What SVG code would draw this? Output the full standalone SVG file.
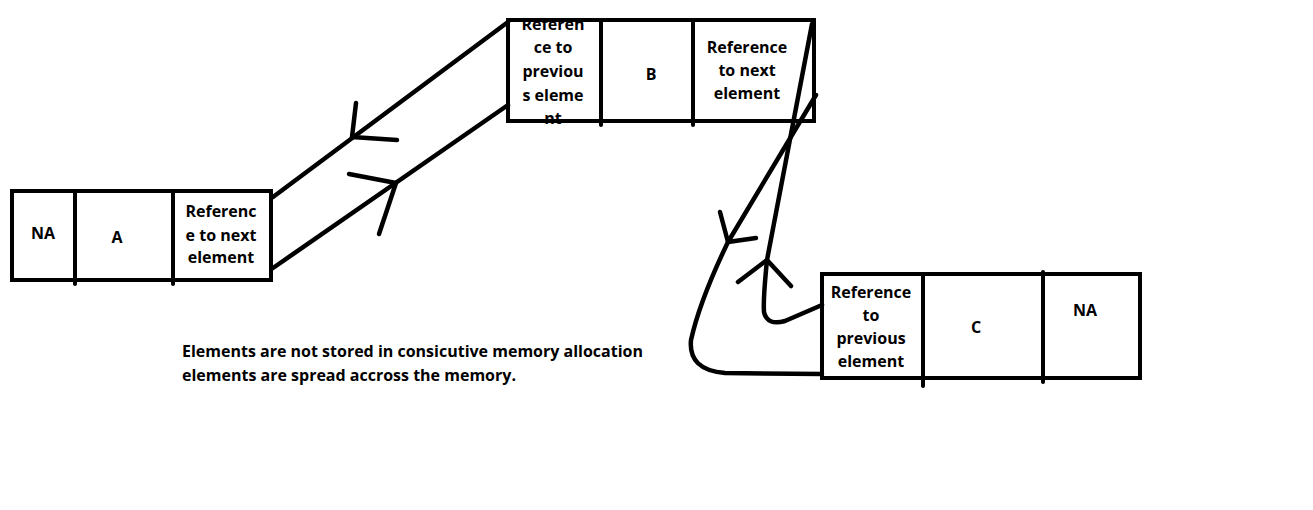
<svg xmlns="http://www.w3.org/2000/svg" width="1313" height="510" viewBox="0 0 1313 510">
<style>
.box{fill:#fff;stroke:#000;stroke-width:4}
.div{stroke:#000;stroke-width:4;stroke-linecap:round}
.t{font-family:"Open Sans","Liberation Sans",sans-serif;font-weight:bold;font-size:16px;fill:#000;text-anchor:middle}
.n{font-family:"Open Sans","Liberation Sans",sans-serif;font-weight:bold;font-size:16px;fill:#000}
.c{fill:none;stroke:#000;stroke-width:4.5;stroke-linecap:round;stroke-linejoin:round}
</style>
<defs>
<clipPath id="clipB1"><rect x="510" y="22" width="90" height="104"/></clipPath>
</defs>
<rect width="1313" height="510" fill="#fff"/>
<g id="nodeA">
<rect class="box" x="12" y="191" width="259" height="89"/>
<line class="div" x1="75" y1="191" x2="75" y2="284"/>
<line class="div" x1="173" y1="191" x2="173" y2="284"/>
<text class="t" x="43" y="239">NA</text>
<text class="t" x="117" y="243">A</text>
<text class="t" x="221" y="217">Referenc</text>
<text class="t" x="221" y="241">e to next</text>
<text class="t" x="221" y="263">element</text>
</g>
<g id="nodeB">
<rect class="box" x="508" y="20" width="306" height="101"/>
<g clip-path="url(#clipB1)">
<text class="t" x="553" y="30">Referen</text>
<text class="t" x="553" y="53">ce to</text>
<text class="t" x="553" y="77">previou</text>
<text class="t" x="553" y="101">s eleme</text>
<text class="t" x="553" y="124">nt</text>
</g>
<rect x="508" y="20" width="306" height="101" fill="none" stroke="#000" stroke-width="4"/>
<line class="div" x1="601" y1="20" x2="601" y2="125"/>
<line class="div" x1="693" y1="20" x2="693" y2="125"/>
<text class="t" x="651" y="80">B</text>
<text class="t" x="747" y="53">Reference</text>
<text class="t" x="747" y="76">to next</text>
<text class="t" x="747" y="99">element</text>
</g>
<g id="nodeC">
<rect class="box" x="822" y="274" width="318" height="104"/>
<line class="div" x1="923" y1="274" x2="923" y2="386"/>
<line class="div" x1="1043" y1="272" x2="1043" y2="382"/>
<text class="t" x="871" y="298">Reference</text>
<text class="t" x="871" y="321">to</text>
<text class="t" x="871" y="344">previous</text>
<text class="t" x="871" y="367">element</text>
<text class="t" x="976" y="333">C</text>
<text class="t" x="1085" y="316">NA</text>
</g>
<g id="connectors">
<path class="c" d="M273,197 L508,22"/>
<path class="c" d="M356,103 L352,137 L397,140"/>
<path class="c" d="M273,268 L508,105"/>
<path class="c" d="M349,174 L396,183 L379,234"/>
<path class="c" d="M812,24 L767,260 Q763,300 764,312 Q767,326 785,321 L822,305"/>
<path class="c" d="M738,282 L767,260 L791,286"/>
<path class="c" d="M816,95 L728,242 Q700,300 691,340 Q688,370 725,373 L822,374"/>
<path class="c" d="M720,212 L728,242 L756,238"/>
</g>
<g id="note">
<text class="n" x="182" y="357">Elements are not stored in consicutive memory allocation</text>
<text class="n" x="182" y="381">elements are spread accross the memory.</text>
</g>
</svg>
